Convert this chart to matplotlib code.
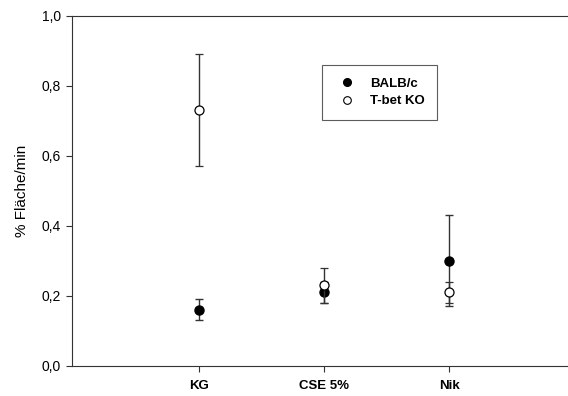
import numpy as np
import matplotlib
matplotlib.use('Agg')
import matplotlib.pyplot as plt
from matplotlib.lines import Line2D
from matplotlib.ticker import FuncFormatter

plt.rcParams['font.family'] = ['Liberation Sans', 'DejaVu Sans']

groups = ['KG', 'CSE 5%', 'Nik']
balb_mean = [0.16, 0.21, 0.30]
balb_err = [0.03, 0.03, 0.13]
tbet_mean = [0.73, 0.23, 0.21]
tbet_err = [0.16, 0.05, 0.03]
yticks = [0.0, 0.2, 0.4, 0.6, 0.8, 1.0]

fig = plt.figure(figsize=(5.68, 3.96), dpi=100)
ax = fig.add_axes([0.1268, 0.0758, 0.8732, 0.8838])

x = np.arange(1, len(groups) + 1)
ax.errorbar(x, balb_mean, yerr=balb_err, fmt='o', color='black', ecolor='#333333',
            elinewidth=1, capsize=2.6, capthick=1, markersize=6.5, zorder=3)
ax.errorbar(x, tbet_mean, yerr=tbet_err, fmt='o', color='black', markerfacecolor='white',
            ecolor='#333333', elinewidth=1, capsize=2.6, capthick=1, markersize=6.5,
            markeredgewidth=0.9, zorder=4)

ax.set_xlim(-0.015, 3.95)
ax.set_ylim(0, 1.0)
ax.set_xticks(x)
ax.set_xticklabels(groups, fontweight='bold', fontsize=9.5)
ax.set_yticks(yticks)
ax.yaxis.set_major_formatter(FuncFormatter(lambda v, p: ('%.1f' % v).replace('.', ',')))
ax.tick_params(axis='y', labelsize=10, direction='out', length=4, width=0.8, pad=4,
               colors='#333333', labelcolor='black')
ax.tick_params(axis='x', direction='out', length=4, width=0.8, pad=6,
               colors='#333333', labelcolor='black')
ax.set_ylabel('% Fläche/min', fontsize=11, labelpad=9)

for s in ['top', 'bottom', 'left']:
    ax.spines[s].set_linewidth(0.8)
    ax.spines[s].set_color('#333333')
ax.spines['right'].set_visible(False)

# legend: markers only, no error bars
handles = [Line2D([], [], linestyle='none', marker='o', color='black', markersize=5.5),
           Line2D([], [], linestyle='none', marker='o', color='black', markerfacecolor='white',
                  markersize=5.5, markeredgewidth=0.8)]
leg = ax.legend(handles, ['BALB/c', 'T-bet KO'], loc='upper left',
                bbox_to_anchor=((322 - 72) / 496, (366 - 65) / 350),
                frameon=True, fancybox=False, edgecolor='#333333',
                prop={'weight': 'bold', 'size': 9.5}, handlelength=1.9,
                handletextpad=0.8, borderpad=0.95, borderaxespad=0, labelspacing=0.4)
leg.get_frame().set_linewidth(0.8)

fig.savefig('out.png', dpi=100)
